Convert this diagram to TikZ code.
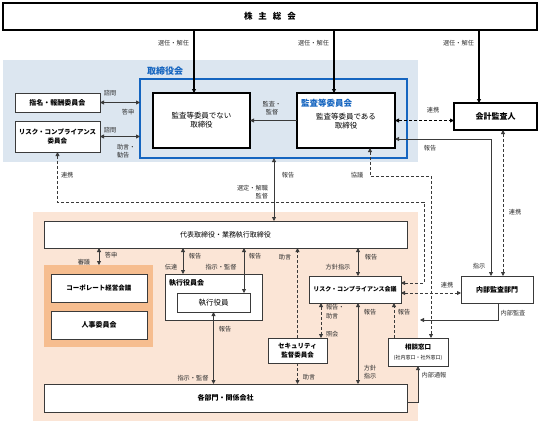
\documentclass[tikz,border=0pt]{standalone}
\usepackage{fontspec}
\setmainfont{Noto Sans CJK JP}
\usetikzlibrary{arrows.meta}
\definecolor{boardbg}{HTML}{DCE6F0}
\definecolor{boardblue}{HTML}{1565C0}
\definecolor{peach}{HTML}{FBE5D6}
\definecolor{orng}{HTML}{F6BD8F}
\definecolor{ln}{HTML}{3A3A3A}
\definecolor{labc}{HTML}{303030}
\begin{document}
\begin{tikzpicture}[x=1pt,y=-1pt,
  every node/.style={inner sep=0pt,outer sep=0pt},
  box/.style={draw=ln,line width=0.9pt,fill=white,rectangle},
  bbox/.style={draw=black,line width=1.3pt,fill=white,rectangle},
  lab/.style={font=\fontsize{6.2}{8.5}\selectfont,text=labc,align=center},
  bt/.style={font=\bfseries\fontsize{7}{9}\selectfont,align=center},
  conn/.style={draw=ln,line width=0.8pt},
  thk/.style={draw=black,line width=1.3pt},
  ar/.style={-{Triangle[length=4pt,width=4pt]}},
  dar/.style={{Triangle[length=4pt,width=4pt]}-{Triangle[length=4pt,width=4pt]}},
  dsh/.style={dash pattern=on 3pt off 2pt},
]
\useasboundingbox (0,0) rectangle (542,423);
% backgrounds
\node[fill=boardbg,minimum width=415pt,minimum height=102pt] (boardbg) at (210.5,111) {};
\node[fill=peach,minimum width=385pt,minimum height=209pt] (execbg) at (225.5,316.5) {};
\node[draw=boardblue,line width=2pt,minimum width=267pt,minimum height=79pt] (board) at (273.5,118.5) {};
\node[text=boardblue,font=\bfseries\fontsize{9}{10}\selectfont] (boardlab) at (165,71) {取締役会};
% top
\node[bbox,minimum width=534pt,minimum height=27pt,font=\bfseries\fontsize{8.5}{10}\selectfont] (top) at (270,16.5) {株\hspace{6pt}主\hspace{6pt}総\hspace{6pt}会};
% board boxes
\node[bbox,minimum width=97pt,minimum height=55pt,align=center,font=\fontsize{7.5}{9}\selectfont] (nonaud) at (201.5,120.5) {監査等委員でない\\取締役};
\node[bbox,minimum width=98pt,minimum height=55pt] (audcom) at (346,120.5) {};
\node[anchor=west,text=boardblue,font=\bfseries\fontsize{8.5}{10}\selectfont] (audtitle) at (301,103) {監査等委員会};
\node[align=center,font=\fontsize{7.5}{9}\selectfont] (audtext) at (346,121) {監査等委員である\\取締役};
\node[bbox,minimum width=83pt,minimum height=27pt,font=\bfseries\fontsize{8}{9}\selectfont] (kaikei) at (495.5,116.5) {会計監査人};
\node[box,bt,minimum width=85pt,minimum height=19pt] (shimei) at (57.5,102.5) {指名・報酬委員会};
\node[box,minimum width=85pt,minimum height=31pt,font=\bfseries\fontsize{6.5}{9}\selectfont,align=center] (riskcom) at (57.5,136.5) {リスク・コンプライアンス\\委員会};
% execution side
\node[box,minimum width=363pt,minimum height=27pt,font=\fontsize{7}{9}\selectfont] (daihyo) at (225.5,234.5) {代表取締役・業務執行取締役};
\node[fill=orng,minimum width=109pt,minimum height=82pt] (orange) at (98.5,306) {};
\node[box,minimum width=96pt,minimum height=28pt,font=\bfseries\fontsize{6.5}{8}\selectfont] (corp) at (99,288) {コーポレート経営会議};
\node[box,bt,minimum width=96pt,minimum height=28pt] (jinji) at (99,325) {人事委員会};
\node[box,minimum width=97pt,minimum height=46pt] (shikko) at (213.5,297) {};
\node[bt,anchor=west] (shikkotitle) at (169,283) {執行役員会};
\node[box,minimum width=73pt,minimum height=19pt,font=\fontsize{7.5}{9}\selectfont] (shikkoin) at (213.5,302.5) {執行役員};
\node[box,minimum width=92pt,minimum height=27pt,font=\bfseries\fontsize{6}{8}\selectfont] (riskmtg) at (355,289.5) {リスク・コンプライアンス会議};
\node[box,minimum width=59pt,minimum height=25pt,font=\bfseries\fontsize{6.5}{8.5}\selectfont,align=center] (security) at (297.5,350.5) {セキュリティ\\監督委員会};
\node[box,minimum width=60pt,minimum height=28pt,align=center,font=\fontsize{5}{9.5}\selectfont] (soudan) at (418,352) {{\bfseries\fontsize{6.5}{8}\selectfont 相談窓口}\\(社内窓口・社外窓口)};
\node[box,bt,minimum width=72pt,minimum height=27pt] (naibu) at (497,289.5) {内部監査部門};
\node[box,bt,minimum width=363pt,minimum height=28pt] (kakubu) at (225.5,398) {各部門・関係会社};
\coordinate (iaend) at (420,320);
% connectors from top
\draw[thk,ar] (194,0 |- top.south) -- (194,0 |- nonaud.north);
\draw[thk,ar] (334,0 |- top.south) -- (334,0 |- audcom.north);
\draw[thk,ar] (479,0 |- top.south) -- (479,0 |- kaikei.north);
\node[lab,anchor=east] (l1) at (189,43) {選任・解任};
\node[lab,anchor=east] (l2) at (329,43) {選任・解任};
\node[lab,anchor=east] (l3) at (474,43) {選任・解任};
% board connections
\draw[conn,ar] (audcom.west) -- (nonaud.east);
\node[lab] (l4) at (272,108) {監査・\\監督};
\draw[conn,dsh,dar,black] (audcom.east) -- (audcom.east -| kaikei.west);
\node[lab] (l5) at (433,110) {連携};
\draw[conn,dar] (audcom.east |- 0,139) -- (491,139) -- (491,0 |- naibu.north);
\node[lab] (l6) at (430,148) {報告};
\node[lab] (l7) at (479,266) {指示};
\draw[conn,dsh,dar] (503,0 |- kaikei.south) -- (503,0 |- naibu.north);
\node[lab] (l8) at (515,212) {連携};
\draw[conn,dar] (shimei.east) -- (shimei.east -| board.west);
\node[lab] (l9) at (110,93) {諮問};
\node[lab] (l10) at (128,112) {答申};
\draw[conn,dar] (riskcom.east) -- (riskcom.east -| board.west);
\node[lab] (l11) at (110,130) {諮問};
\node[lab,align=left,anchor=west] (l12) at (117,151) {助言・\\勧告};
% dashed long lines
\draw[conn,dsh,dar] (riskcom.south) -- (57.5,202) -- (424,202) -- (424,283) -- (riskmtg.east |- 0,283);
\node[lab,anchor=west] (l13) at (61,175) {連携};
\draw[conn,dsh,dar] (370,0 |- audcom.south) -- (370,176) -- (431,176) -- (431,0 |- soudan.north);
\node[lab] (l14) at (357,175) {協議};
% board to daihyo
\draw[conn,dar] (274,0 |- board.south) -- (274,0 |- daihyo.north);
\node[lab] (l15) at (288,175) {報告};
\node[lab,anchor=east,align=right] (l16) at (268,192) {選定・解職\\監督};
% daihyo down
\draw[conn,dar] (99,0 |- daihyo.south) -- (99,0 |- orange.north);
\node[lab] (l17) at (111,255) {答申};
\node[lab] (l18) at (84,262) {審議};
\draw[conn,dar] (183,0 |- daihyo.south) -- (183,0 |- shikko.north);
\node[lab] (l19) at (195,256) {報告};
\node[lab] (l20) at (171,267) {伝達};
\draw[conn,dar] (244,0 |- daihyo.south) -- (244,0 |- shikkoin.north);
\node[lab] (l21) at (255,256) {報告};
\node[lab] (l22) at (221,267) {指示・監督};
\draw[conn,dar] (shikkoin.south) -- (shikkoin.south |- kakubu.north);
\node[lab] (l23) at (225,329) {報告};
\node[lab] (l24) at (193,378) {指示・監督};
\draw[conn,dsh,ar] (security.north) -- (security.north |- daihyo.south);
\node[lab] (l25) at (285,257) {助言};
\draw[conn,dsh,ar] (security.south) -- (security.south |- kakubu.north);
\node[lab] (l26) at (309,377) {助言};
\draw[conn,dar] (358,0 |- daihyo.south) -- (358,0 |- riskmtg.north);
\node[lab] (l27) at (371,257) {報告};
\node[lab] (l28) at (338,267) {方針指示};
\draw[conn,dar] (358,0 |- riskmtg.south) -- (358,0 |- kakubu.north);
\node[lab] (l29) at (370,312) {報告};
\node[lab] (l30) at (370,372) {方針\\指示};
\draw[conn,dsh,dar] (321,0 |- riskmtg.south) -- (321,0 |- security.north);
\node[lab,anchor=west,align=left] (l31) at (326,311.5) {報告・\\助言};
\node[lab,anchor=west] (l32) at (326,334) {照会};
\draw[conn,dsh,ar] (394,0 |- soudan.north) -- (394,0 |- riskmtg.south);
\node[lab] (l33) at (404,312) {報告};
\draw[conn,dsh,dar] (riskmtg.east |- 0,293) -- (naibu.west |- 0,293);
\node[lab] (l34) at (447,285) {連携};
\draw[conn,ar] (498,0 |- naibu.south) -- (498,320) -- (iaend);
\node[lab] (l35) at (513,313) {内部監査};
\draw[conn,ar] (kakubu.east |- 0,402) -- (418,402) -- (soudan.south);
\node[lab] (l36) at (434,375) {内部通報};
\end{tikzpicture}
\end{document}
